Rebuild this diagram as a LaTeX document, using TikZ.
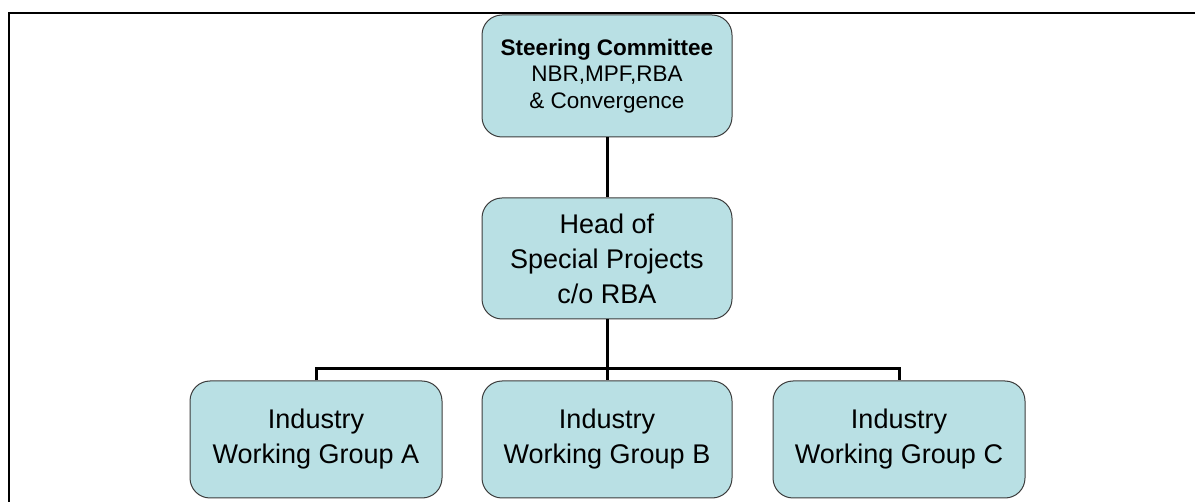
\documentclass[tikz,border=0pt]{standalone}
\usepackage{fontspec}
\setmainfont{Liberation Sans}
\definecolor{boxfill}{RGB}{185,224,228}
\definecolor{boxline}{RGB}{60,60,60}
\begin{document}
\begin{tikzpicture}[x=1pt,y=-1pt,
  orgbox/.style={draw=boxline,line width=1pt,fill=boxfill,rounded corners=20pt,
    align=center,inner sep=0pt,minimum width=250pt},
  bigtext/.style={font=\fontsize{27}{35}\selectfont},
  smalltext/.style={font=\fontsize{22.5}{26.5}\selectfont},
  conn/.style={line width=3pt,black},
  frame/.style={line width=2.5pt,black}]
\useasboundingbox (0,0) rectangle (1195,502);
\draw[frame] (9,502) -- (9,13) -- (1195,13);
\node[orgbox,smalltext,minimum height=122pt] (sc) at (607,76)
  {\textbf{Steering Committee}\\NBR,MPF,RBA\\\& Convergence};
\node[orgbox,bigtext,minimum height=121pt] (head) at (607,258.5)
  {Head of\\Special Projects\\c/o RBA};
\node[orgbox,bigtext,minimum height=117pt,minimum width=252pt] (wa) at (316,439.5)
  {Industry\\Working Group A};
\node[orgbox,bigtext,minimum height=117pt] (wb) at (607,439.5)
  {Industry\\Working Group B};
\node[orgbox,bigtext,minimum height=117pt,minimum width=252pt] (wc) at (899,439.5)
  {Industry\\Working Group C};
\coordinate (bar) at (607,369);
\draw[conn] (sc.south) -- (head.north);
\draw[conn] (head.south) -- (bar);
\draw[conn] (wa.north) |- (bar) -| (wc.north);
\draw[conn] (bar) -- (wb.north);
\end{tikzpicture}
\end{document}
